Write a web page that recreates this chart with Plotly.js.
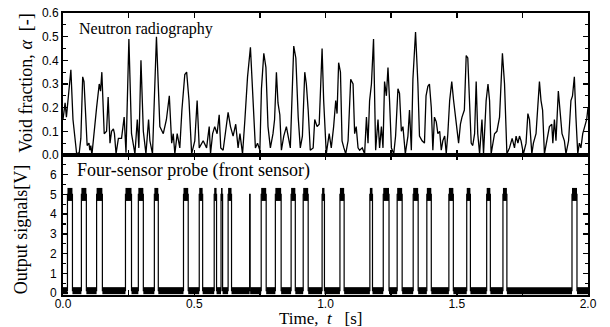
<!DOCTYPE html>
<html>
<head>
<meta charset="utf-8">
<script src="https://cdn.plot.ly/plotly-3.0.1.min.js"></script>
<style>html,body{margin:0;padding:0;background:#fff}#chart{width:610px;height:327px}</style>
</head>
<body>
<div id="chart"></div>
<script>
// Neutron radiography: void fraction vs time
const voidTime = [0.000,0.008,0.013,0.030,0.038,0.046,0.052,0.062,0.068,0.075,0.080,0.085,0.088,0.092,0.099,0.102,0.106,0.110,0.128,0.138,0.143,0.148,0.157,0.166,0.172,0.179,0.185,0.192,0.196,0.202,0.211,0.223,0.233,0.240,0.251,0.261,0.274,0.283,0.289,0.297,0.306,0.316,0.326,0.331,0.341,0.356,0.369,0.382,0.394,0.405,0.414,0.420,0.426,0.435,0.445,0.453,0.464,0.471,0.480,0.490,0.502,0.511,0.519,0.534,0.547,0.557,0.562,0.570,0.578,0.587,0.595,0.601,0.610,0.619,0.629,0.638,0.648,0.658,0.667,0.674,0.684,0.693,0.703,0.714,0.724,0.733,0.741,0.750,0.756,0.765,0.773,0.781,0.790,0.800,0.806,0.813,0.819,0.826,0.832,0.841,0.851,0.866,0.879,0.887,0.896,0.904,0.912,0.921,0.927,0.934,0.942,0.953,0.959,0.968,0.976,0.987,0.993,1.003,1.014,1.022,1.031,1.039,1.044,1.050,1.057,1.063,1.070,1.077,1.086,1.090,1.096,1.105,1.111,1.117,1.124,1.130,1.140,1.149,1.156,1.162,1.168,1.175,1.183,1.191,1.200,1.206,1.213,1.219,1.225,1.232,1.238,1.244,1.251,1.260,1.267,1.276,1.282,1.289,1.295,1.304,1.314,1.320,1.327,1.333,1.343,1.352,1.358,1.368,1.377,1.383,1.390,1.396,1.403,1.409,1.415,1.422,1.428,1.435,1.441,1.447,1.454,1.460,1.466,1.473,1.481,1.488,1.498,1.507,1.514,1.520,1.529,1.536,1.542,1.549,1.555,1.561,1.568,1.574,1.580,1.587,1.596,1.602,1.612,1.619,1.625,1.631,1.638,1.644,1.653,1.663,1.674,1.682,1.691,1.701,1.711,1.720,1.726,1.733,1.739,1.745,1.754,1.764,1.771,1.777,1.786,1.792,1.802,1.808,1.815,1.821,1.827,1.834,1.843,1.853,1.862,1.866,1.872,1.878,1.887,1.894,1.901,1.910,1.916,1.926,1.935,1.941,1.948,1.954,1.961,1.967,1.973,1.980,1.989,1.995,2.000];
const voidFraction = [0.15,0.22,0.16,0.36,0.15,0.05,0.005,0.01,0.07,0.33,0.31,0.20,0.14,0.04,0.05,0.02,0.04,0.00,0.20,0.30,0.27,0.35,0.09,0.10,0.245,0.05,0.10,0.11,0.09,0.005,0.07,0.07,0.16,0.01,0.49,0.09,0.005,0.15,0.03,0.40,0.10,0.005,0.15,0.06,0.005,0.50,0.12,0.09,0.15,0.25,0.05,0.09,0.005,0.09,0.03,0.19,0.34,0.35,0.23,0.005,0.06,0.23,0.03,0.06,0.03,0.12,0.005,0.09,0.12,0.09,0.17,0.03,0.02,0.09,0.18,0.12,0.08,0.13,0.03,0.09,0.005,0.15,0.33,0.455,0.23,0.03,0.05,0.02,0.28,0.43,0.37,0.12,0.03,0.09,0.15,0.35,0.22,0.17,0.02,0.08,0.12,0.03,0.46,0.41,0.16,0.03,0.08,0.35,0.30,0.19,0.02,0.03,0.15,0.12,0.13,0.45,0.23,0.005,0.09,0.03,0.12,0.23,0.175,0.39,0.35,0.06,0.03,0.005,0.06,0.15,0.32,0.30,0.09,0.12,0.03,0.02,0.03,0.005,0.16,0.05,0.23,0.30,0.49,0.02,0.15,0.03,0.12,0.03,0.31,0.25,0.37,0.23,0.03,0.005,0.08,0.28,0.26,0.10,0.12,0.005,0.08,0.19,0.02,0.32,0.52,0.30,0.08,0.06,0.05,0.25,0.29,0.30,0.20,0.02,0.16,0.14,0.09,0.10,0.02,0.06,0.08,0.005,0.09,0.23,0.31,0.23,0.12,0.05,0.13,0.16,0.19,0.42,0.41,0.23,0.05,0.04,0.09,0.31,0.09,0.005,0.15,0.005,0.23,0.30,0.23,0.005,0.05,0.09,0.10,0.16,0.43,0.30,0.005,0.03,0.07,0.03,0.08,0.05,0.08,0.06,0.005,0.05,0.175,0.15,0.005,0.05,0.09,0.19,0.31,0.23,0.19,0.005,0.06,0.12,0.13,0.05,0.15,0.06,0.27,0.175,0.09,0.06,0.005,0.06,0.23,0.25,0.33,0.16,0.005,0.05,0.03,0.09,0.13,0.15,0.20];

// Four-sensor probe (front sensor): pulse start / end times [s]
const pulseStart = [0.017,0.070,0.128,0.238,0.287,0.348,0.459,0.519,0.576,0.602,0.629,0.711,0.755,0.809,0.869,0.915,0.987,1.055,1.169,1.220,1.273,1.334,1.386,1.470,1.538,1.614,1.676,1.939];
const pulseEnd   = [0.036,0.089,0.150,0.261,0.306,0.363,0.477,0.532,0.585,0.608,0.642,0.713,0.774,0.831,0.885,0.934,0.996,1.071,1.179,1.242,1.292,1.353,1.403,1.487,1.552,1.628,1.691,1.958];
const pulseLevel = 5.0;   // V, gas phase
const baseLevel = 0.12;   // V, liquid phase
const tStart = 0, tEnd = 2.0;

const xTickVals = [0,0.25,0.5,0.75,1.0,1.25,1.5,1.75,2.0];
const xTickText = ['0.0','','0.5','','1.0','','1.5','','2.0'];
const y1TickVals = [0,0.1,0.2,0.3,0.4,0.5,0.6];
const y1TickText = ['0.0','0.1','0.2','0.3','0.4','0.5','0.6'];
const y2TickVals = [0,1,2,3,4,5,6];

// build probe signal from pulses
const sigX = [tStart], sigY = [baseLevel];
const lowX = [], lowY = [];
const topX = [], topY = [];
let prev = tStart;
for (let i = 0; i < pulseStart.length; i++) {
  const s = pulseStart[i], e = pulseEnd[i];
  sigX.push(s, s, e, e); sigY.push(baseLevel, pulseLevel, pulseLevel, baseLevel);
  lowX.push(prev, s, null); lowY.push(baseLevel, baseLevel, null);
  topX.push(s, e, null); topY.push(pulseLevel, pulseLevel, null);
  prev = e;
}
sigX.push(tEnd); sigY.push(baseLevel);
lowX.push(prev, tEnd); lowY.push(baseLevel, baseLevel);

const serif = 'Liberation Serif, Times New Roman, serif';
const sans = 'Liberation Sans, Arial, sans-serif';

const traces = [
  {x: voidTime, y: voidFraction, type: 'scatter', mode: 'lines', xaxis: 'x', yaxis: 'y',
   line: {color: '#000', width: 1.3}, hoverinfo: 'skip'},
  {x: lowX, y: lowY, type: 'scatter', mode: 'lines', xaxis: 'x2', yaxis: 'y2',
   line: {color: '#000', width: 7}, hoverinfo: 'skip'},
  {x: sigX, y: sigY, type: 'scatter', mode: 'lines', xaxis: 'x2', yaxis: 'y2',
   line: {color: '#000', width: 1.2}, hoverinfo: 'skip'},
  {x: topX, y: topY, type: 'scatter', mode: 'lines', xaxis: 'x2', yaxis: 'y2',
   line: {color: '#000', width: 13}, hoverinfo: 'skip'}
];

const axisCommon = {
  showline: true, linecolor: '#000', linewidth: 2, mirror: 'allticks',
  ticks: 'inside', ticklen: 5, tickwidth: 1.5, tickcolor: '#000',
  showgrid: false, zeroline: false,
  tickfont: {family: sans, size: 12, color: '#000'}
};

const layout = {
  width: 610, height: 327,
  margin: {l: 63, r: 22, t: 13, b: 32},
  paper_bgcolor: '#fff', plot_bgcolor: '#fff',
  showlegend: false,
  xaxis: Object.assign({}, axisCommon, {domain: [0, 1], anchor: 'y', range: [0, 2],
    tickmode: 'array', tickvals: xTickVals, ticktext: xTickText, showticklabels: false}),
  xaxis2: Object.assign({}, axisCommon, {domain: [0, 1], anchor: 'y2', range: [0, 2],
    tickmode: 'array', tickvals: xTickVals, ticktext: xTickText, ticklabelstandoff: -3}),
  yaxis: Object.assign({}, axisCommon, {domain: [0.4965, 1], anchor: 'x', range: [0, 0.6],
    tickmode: 'array', tickvals: y1TickVals, ticktext: y1TickText,
    minor: {ticks: 'inside', ticklen: 3, tickwidth: 1.2, tickcolor: '#000', dtick: 0.05, tick0: 0}}),
  yaxis2: Object.assign({}, axisCommon, {domain: [0, 0.4965], anchor: 'x2', range: [-0.1, 7],
    tickmode: 'array', tickvals: y2TickVals, ticklabelstandoff: 2,
    minor: {ticks: 'inside', ticklen: 3, tickwidth: 1.2, tickcolor: '#000', dtick: 0.5, tick0: 0}}),
  annotations: [
    {text: 'Neutron radiography', xref: 'paper', yref: 'y domain', x: 0.026, y: 0.89,
     xanchor: 'left', yanchor: 'middle', showarrow: false, font: {family: serif, size: 16, color: '#000'}},
    {text: 'Four-sensor probe (front sensor)', xref: 'paper', yref: 'y2 domain', x: 0.022, y: 0.89,
     xanchor: 'left', yanchor: 'middle', showarrow: false, font: {family: serif, size: 18, color: '#000'}},
    {text: 'Void fraction, <i>α</i>  [-]', xref: 'paper', yref: 'y domain', x: -0.072, y: 0.51,
     xanchor: 'center', yanchor: 'middle', textangle: -90, showarrow: false, font: {family: serif, size: 18, color: '#000'}},
    {text: 'Output signals[V]', xref: 'paper', yref: 'y2 domain', x: -0.08, y: 0.47,
     xanchor: 'center', yanchor: 'middle', textangle: -90, showarrow: false, font: {family: serif, size: 18, color: '#000'}},
    {text: 'Time,  <i>t</i>   [s]', xref: 'paper', yref: 'paper', x: 0.49, y: -0.085,
     xanchor: 'center', yanchor: 'middle', showarrow: false, borderpad: 0, font: {family: serif, size: 17, color: '#000'}}
  ]
};

Plotly.newPlot('chart', traces, layout, {staticPlot: true, displayModeBar: false});
</script>
</body>
</html>
